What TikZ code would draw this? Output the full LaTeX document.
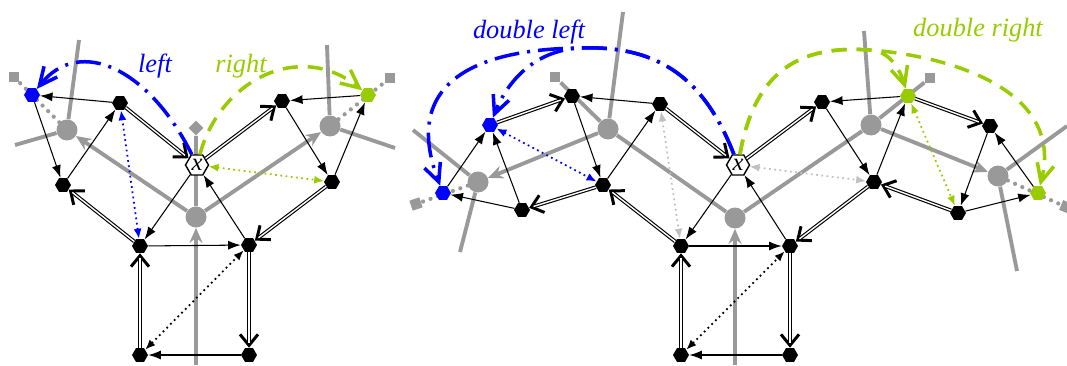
\documentclass[tikz,border=0pt]{standalone}
\usepackage{fontspec}
\setmainfont{Liberation Serif}
\usepackage{tikz}
\usetikzlibrary{shapes.geometric, arrows.meta}
\definecolor{dartblue}{RGB}{0, 0, 255}
\definecolor{dartgreen}{RGB}{153, 204, 0}
\definecolor{dualgray}{RGB}{153, 153, 153}
\definecolor{palegray}{RGB}{192, 192, 192}
\tikzset{
  dart/.style={
    regular polygon, regular polygon sides=6, fill=black,
    inner sep=0pt, minimum size=0.32cm
  },
  bluedart/.style={dart, fill=dartblue},
  greendart/.style={dart, fill=dartgreen},
  startdart/.style={
    regular polygon, regular polygon sides=6, draw=black, fill=white,
    line width=0.8pt, inner sep=0pt, minimum size=0.46cm,
    font=\itshape\fontsize{14}{14}\selectfont
  },
  dualvertex/.style={circle, fill=dualgray, inner sep=0pt, minimum size=0.42cm},
  dualend/.style={rectangle, fill=dualgray, inner sep=0pt, minimum size=0.21cm},
  dualedge/.style={draw=dualgray, line width=2.2pt},
  dualarrow/.style={dualedge, -{Stealth[length=3mm, width=2.6mm]}},
  dualdots/.style={
    draw=dualgray, line width=2.4pt, line cap=round,
    dash pattern=on 0pt off 4.5pt
  },
  betaone/.style={draw=black, line width=0.6pt, -{Latex[length=2.5mm, width=1.8mm]}},
  betatwo/.style={
    draw=white, line width=0.8pt, shorten >=2.6pt,
    preaction={
      draw=black, line width=2.1pt, shorten >=0pt,
      -{Straight Barb[length=2.2mm, width=3.6mm, line width=1.7pt]}
    }
  },
  betainv/.style={
    line width=1pt, dotted,
    {Latex[length=2mm, width=1.6mm]}-{Latex[length=2mm, width=1.6mm]}
  },
  leftarc/.style={
    draw=dartblue, line width=2pt,
    dash pattern=on 5mm off 1.6mm on 0.6mm off 1.6mm,
    -{Straight Barb[length=3.6mm, width=3.4mm]}
  },
  rightarc/.style={
    draw=dartgreen, line width=2pt, dash pattern=on 3mm off 2mm,
    -{Straight Barb[length=3.6mm, width=3.4mm]}
  },
  arclabel/.style={font=\itshape\fontsize{15}{18}\selectfont, inner sep=0pt}
}

\begin{document}
\begin{tikzpicture}[x=0.02cm, y=-0.02cm]
  \useasboundingbox (0,0) rectangle (1067,365);

  % left map: dual graph
  \node[dualvertex] (lv_left) at (67,130) {};
  \node[dualvertex] (lv_mid) at (196,217) {};
  \node[dualvertex] (lv_right) at (330,126) {};
  \node[dualend, rotate=45] (lend_top) at (196,128) {};
  \node[dualend] (lend_left) at (14,77) {};
  \node[dualend] (lend_right) at (390,78) {};
  \coordinate (lfree_lup) at (79,40);
  \coordinate (lfree_lside) at (15,145);
  \coordinate (lfree_rup) at (327,45);
  \coordinate (lfree_rside) at (395,148);
  \coordinate (lfree_bottom) at (196,365);

  \draw[dualedge] (lfree_lup) -- (lv_left);
  \draw[dualedge] (lfree_lside) -- (lv_left);
  \draw[dualedge] (lfree_rup) -- (lv_right);
  \draw[dualedge] (lfree_rside) -- (lv_right);
  \draw[dualedge] (lv_mid) -- (lend_top);
  \draw[dualarrow] (lv_mid) -- (lv_left);
  \draw[dualarrow] (lv_mid) -- (lv_right);
  \draw[dualarrow] (lfree_bottom) -- (lv_mid);
  \draw[dualdots] (lv_left) -- (lend_left);
  \draw[dualdots] (lv_right) -- (lend_right);

  % left map: darts
  \node[bluedart] (lb) at (32,95) {};
  \node[dart] (la) at (120,103) {};
  \node[dart] (lc) at (63,185) {};
  \node[startdart] (lx) at (197,165) {x};
  \node[dart] (ld) at (140,246) {};
  \node[dart] (le) at (249,245) {};
  \node[dart] (lf) at (140,355) {};
  \node[dart] (lg) at (249,355) {};
  \node[dart] (lh) at (282,101) {};
  \node[dart] (li) at (332,182) {};
  \node[greendart] (lj) at (368,95) {};

  \draw[betaone] (la) -- (lb);
  \draw[betaone] (lb) -- (lc);
  \draw[betaone] (lc) -- (la);
  \draw[betaone] (lx) -- (ld);
  \draw[betaone] (ld) -- (le);
  \draw[betaone] (le) -- (lx);
  \draw[betaone] (lh) -- (li);
  \draw[betaone] (li) -- (lj);
  \draw[betaone] (lj) -- (lh);
  \draw[betaone] (lg) -- (lf);
  \draw[betatwo] (la) -- (lx);
  \draw[betatwo] (ld) -- (lc);
  \draw[betatwo] (li) -- (le);
  \draw[betatwo] (lx) -- (lh);
  \draw[betatwo] (lf) -- (ld);
  \draw[betatwo] (le) -- (lg);
  \draw[betainv] (lf) -- (le);
  \draw[betainv, color=dartblue] (ld) -- (la);
  \draw[betainv, color=dartgreen] (lx) -- (li);

  \draw[leftarc] (lx) .. controls (150,70) and (80,35) .. (lb);
  \draw[rightarc] (lx) .. controls (220,80) and (300,40) .. (lj);
  \node[arclabel, text=dartblue] (lbl_left) at (155,66) {left};
  \node[arclabel, text=dartgreen] (lbl_right) at (241,66) {right};

  % right map: dual graph
  \node[dualvertex] (rv_a) at (478,182) {};
  \node[dualvertex] (rv_b) at (608,129) {};
  \node[dualvertex] (rv_mid) at (735,218) {};
  \node[dualvertex] (rv_c) at (871,125) {};
  \node[dualvertex] (rv_d) at (998,176) {};
  \node[dualend, rotate=19] (rend_a) at (416,204) {};
  \node[dualend] (rend_b) at (555,77) {};
  \node[dualend] (rend_c) at (930,78) {};
  \node[dualend, rotate=-23] (rend_d) at (1066,207) {};
  \coordinate (rfree_aup) at (413,130);
  \coordinate (rfree_adown) at (460,252);
  \coordinate (rfree_bup) at (623,12);
  \coordinate (rfree_cup) at (864,31);
  \coordinate (rfree_dup) at (1067,126);
  \coordinate (rfree_ddown) at (1017,271);
  \coordinate (rfree_bottom) at (735,365);

  \draw[dualedge] (rfree_aup) -- (rv_a);
  \draw[dualedge] (rfree_adown) -- (rv_a);
  \draw[dualedge] (rfree_bup) -- (rv_b);
  \draw[dualedge] (rv_b) -- (rend_b);
  \draw[dualedge] (rfree_cup) -- (rv_c);
  \draw[dualedge] (rv_c) -- (rend_c);
  \draw[dualedge] (rfree_dup) -- (rv_d);
  \draw[dualedge] (rfree_ddown) -- (rv_d);
  \draw[dualedge] (rv_mid) -- (rv_b);
  \draw[dualedge] (rv_mid) -- (rv_c);
  \draw[dualarrow] (rv_b) -- (rv_a);
  \draw[dualarrow] (rv_c) -- (rv_d);
  \draw[dualarrow] (rfree_bottom) -- (rv_mid);
  \draw[dualdots] (rv_a) -- (rend_a);
  \draw[dualdots] (rv_d) -- (rend_d);

  % right map: darts
  \node[bluedart] (rb_far) at (443,193) {};
  \node[bluedart] (rb_near) at (490,125) {};
  \node[dart] (rp_a) at (572,96) {};
  \node[dart] (rp_b) at (660,104) {};
  \node[dart] (rp_c) at (603,185) {};
  \node[dart] (rp_d) at (522,210) {};
  \node[startdart] (rx) at (738,165) {x};
  \node[dart] (rd) at (681,246) {};
  \node[dart] (re) at (790,246) {};
  \node[dart] (rf) at (681,355) {};
  \node[dart] (rg) at (790,355) {};
  \node[dart] (rq_a) at (822,102) {};
  \node[dart] (rq_b) at (874,182) {};
  \node[greendart] (rg_near) at (908,96) {};
  \node[dart] (rq_c) at (990,126) {};
  \node[dart] (rq_d) at (958,213) {};
  \node[greendart] (rg_far) at (1038,193) {};

  \draw[betaone] (rp_b) -- (rp_a);
  \draw[betaone] (rp_a) -- (rp_c);
  \draw[betaone] (rp_c) -- (rp_b);
  \draw[betaone] (rp_d) -- (rb_far);
  \draw[betaone] (rb_far) -- (rb_near);
  \draw[betaone] (rp_d) -- (rb_near);
  \draw[betaone] (rx) -- (rd);
  \draw[betaone] (rd) -- (re);
  \draw[betaone] (re) -- (rx);
  \draw[betaone] (rg) -- (rf);
  \draw[betaone] (rq_a) -- (rq_b);
  \draw[betaone] (rq_b) -- (rg_near);
  \draw[betaone] (rg_near) -- (rq_a);
  \draw[betaone] (rq_c) -- (rq_d);
  \draw[betaone] (rq_d) -- (rg_far);
  \draw[betaone] (rg_far) -- (rq_c);
  \draw[betatwo] (rp_b) -- (rx);
  \draw[betatwo] (rd) -- (rp_c);
  \draw[betatwo] (rp_c) -- (rp_d);
  \draw[betatwo] (rb_near) -- (rp_a);
  \draw[betatwo] (rf) -- (rd);
  \draw[betatwo] (re) -- (rg);
  \draw[betatwo] (rx) -- (rq_a);
  \draw[betatwo] (rq_b) -- (re);
  \draw[betatwo] (rg_near) -- (rq_c);
  \draw[betatwo] (rq_d) -- (rq_b);
  \draw[betainv] (rf) -- (re);
  \draw[betainv, color=dartblue] (rb_near) -- (rp_c);
  \draw[betainv, color=palegray] (rp_b) -- (rd);
  \draw[betainv, color=palegray] (rx) -- (rq_b);
  \draw[betainv, color=dartgreen] (rg_near) -- (rq_d);

  \coordinate (blue_split) at (580,48);
  \coordinate (green_split) at (870,50);
  \draw[leftarc] (rx) .. controls (705,80) and (660,45) .. (blue_split)
    .. controls (480,49) and (400,80) .. (rb_far);
  \draw[leftarc] (rx) .. controls (705,80) and (660,45) .. (blue_split)
    .. controls (540,50) and (510,75) .. (rb_near);
  \draw[rightarc] (rx) .. controls (755,70) and (800,45) .. (green_split)
    .. controls (950,56) and (1065,90) .. (rg_far);
  \draw[rightarc] (rx) .. controls (755,70) and (800,45) .. (green_split)
    .. controls (890,51) and (900,70) .. (rg_near);
  \node[arclabel, text=dartblue] (lbl_dleft) at (529,32) {double left};
  \node[arclabel, text=dartgreen] (lbl_dright) at (978,30) {double right};
\end{tikzpicture}
\end{document}
